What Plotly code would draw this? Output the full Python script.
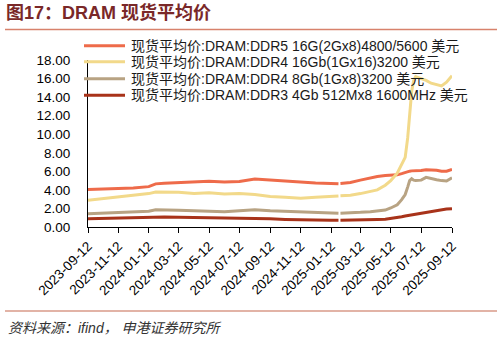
import plotly.graph_objects as go

dates = ["2023-09-12", "2023-10-12", "2023-11-12", "2023-12-12", "2024-01-12", "2024-01-26",
         "2024-02-12", "2024-03-12", "2024-04-12", "2024-05-12", "2024-06-12", "2024-07-12",
         "2024-08-12", "2024-09-12", "2024-10-12", "2024-11-12", "2024-12-12", "2025-01-12",
         "2025-01-27", "2025-01-29", "2025-01-31", "2025-02-20", "2025-03-12", "2025-04-01",
         "2025-04-15", "2025-05-01", "2025-05-12", "2025-05-25", "2025-06-03", "2025-06-10",
         "2025-06-15", "2025-06-19", "2025-06-23", "2025-06-27", "2025-07-01", "2025-07-12",
         "2025-07-22", "2025-08-01", "2025-08-12", "2025-08-22", "2025-09-01", "2025-09-12"]

ddr5_16g = [4.03, 4.08, 4.14, 4.20, 4.35, 4.65, 4.72, 4.78, 4.90, 4.94, 4.85, 4.90,
            5.17, 5.05, 4.95, 4.82, 4.74, 4.70, 4.67, None, 4.70, 4.80, 5.05, 5.32,
            5.45, 5.54, 5.58, 5.62, 5.75, 5.90, 5.98, 6.02, 6.05, 6.05, 6.08, 6.10,
            6.18, 6.15, 6.12, 6.00, 6.02, 6.20]

ddr4_16gb = [2.88, 3.05, 3.23, 3.40, 3.60, 3.77, 3.78, 3.75, 3.60, 3.68, 3.55, 3.60,
             3.50, 3.30, 3.22, 3.10, 3.20, 3.32, 3.34, None, 3.36, 3.42, 3.60, 3.80,
             4.00, 4.50, 5.00, 5.80, 6.80, 7.50, 9.60, 12.30, 14.60, 15.80, 16.20, 16.00,
             15.80, 15.50, 15.30, 15.20, 15.60, 16.30]

ddr4_8gb = [1.44, 1.50, 1.58, 1.62, 1.69, 1.85, 1.85, 1.80, 1.75, 1.72, 1.65, 1.75,
            1.87, 1.75, 1.68, 1.60, 1.52, 1.48, 1.48, None, 1.49, 1.51, 1.58, 1.65,
            1.72, 1.82, 2.05, 2.40, 2.95, 3.50, 4.30, 5.00, 5.20, 5.05, 5.00, 5.05,
            5.35, 5.20, 5.10, 5.00, 4.95, 5.30]

ddr3_4gb = [0.90, 0.95, 1.00, 1.03, 1.07, 1.08, 1.08, 1.05, 1.03, 1.01, 0.98, 0.96,
            0.94, 0.88, 0.82, 0.76, 0.72, 0.72, 0.72, None, 0.72, 0.72, 0.74, 0.78,
            0.80, 0.83, 0.90, 1.00, 1.10, 1.18, 1.23, 1.27, 1.30, 1.33, 1.37, 1.47,
            1.57, 1.67, 1.78, 1.86, 1.93, 1.98]

names = ["现货平均价:DRAM:DDR5 16G(2Gx8)4800/5600 美元",
         "现货平均价:DRAM:DDR4 16Gb(1Gx16)3200 美元",
         "现货平均价:DRAM:DDR4 8Gb(1Gx8)3200 美元",
         "现货平均价:DRAM:DDR3 4Gb 512Mx8 1600MHz 美元"]
series = [ddr5_16g, ddr4_16gb, ddr4_8gb, ddr3_4gb]
colors = ["#EE6B4A", "#F2D98A", "#B8A383", "#A8331A"]

tick_dates = ["2023-09-12", "2023-11-12", "2024-01-12", "2024-03-12", "2024-05-12",
              "2024-07-12", "2024-09-12", "2024-11-12", "2025-01-12", "2025-03-12",
              "2025-05-12", "2025-07-12", "2025-09-12"]
y_ticks = [0, 2, 4, 6, 8, 10, 12, 14, 16, 18]

W, H = 502, 340
L, R, T, B = 88, 50, 60, 113
pw, ph = W - L - R, H - T - B

def px(x):
    return (x - L) / pw

def py(y):
    return (H - B - y) / ph

FONT = "Liberation Sans, Arial, Noto Sans CJK SC, sans-serif"

fig = go.Figure()
for name, vals, col in zip(names, series, colors):
    fig.add_trace(go.Scatter(x=dates, y=vals, mode="lines", name=name,
                             line=dict(color=col, width=3), showlegend=False,
                             connectgaps=False))

shapes = []
annotations = []
legend_y = [45.7, 61.7, 78.7, 95.3]
for name, col, ly in zip(names, colors, legend_y):
    shapes.append(dict(type="line", xref="paper", yref="paper",
                       x0=px(84), x1=px(125), y0=py(ly), y1=py(ly),
                       line=dict(color=col, width=3)))
    annotations.append(dict(xref="paper", yref="paper", x=px(129), y=py(ly),
                            xanchor="left", yanchor="middle", showarrow=False,
                            text=name, font=dict(family=FONT, size=14, color="#1a1a1a")))

# title, rules, source
annotations.append(dict(xref="paper", yref="paper", x=px(4), y=py(13),
                        xanchor="left", yanchor="middle", showarrow=False,
                        text="<b>图17：DRAM 现货平均价</b>",
                        font=dict(family=FONT, size=18, color="#7A2828")))
shapes.append(dict(type="line", xref="paper", yref="paper", x0=px(5), x1=px(497),
                   y0=py(29.5), y1=py(29.5), line=dict(color="#D8826C", width=1.5)))
shapes.append(dict(type="line", xref="paper", yref="paper", x0=px(5), x1=px(497),
                   y0=py(311), y1=py(311), line=dict(color="#D99A88", width=1.5)))
annotations.append(dict(xref="paper", yref="paper", x=px(6), y=py(328),
                        xanchor="left", yanchor="middle", showarrow=False,
                        text="<i>资料来源：ifind， 申港证券研究所</i>",
                        font=dict(family=FONT, size=14, color="#333333")))

fig.update_layout(
    width=W, height=H,
    margin=dict(l=L, r=R, t=T, b=B),
    paper_bgcolor="white", plot_bgcolor="white",
    shapes=shapes, annotations=annotations,
    font=dict(family=FONT, size=14, color="black"),
)
fig.update_xaxes(type="date", range=["2023-09-12", "2025-09-12"],
                 tickvals=tick_dates, ticktext=tick_dates, tickangle=-45,
                 showgrid=False, zeroline=False, showline=True, linecolor="black",
                 linewidth=1, ticks="outside", ticklen=5, tickcolor="black",
                 tickfont=dict(family=FONT, size=13.5, color="black"))
fig.update_yaxes(range=[0, 18], tickvals=y_ticks,
                 ticktext=[f"{v:.2f}" for v in y_ticks],
                 showgrid=False, zeroline=False, showline=True, linecolor="black",
                 linewidth=1, ticks="", ticklabelstandoff=14,
                 tickfont=dict(family=FONT, size=13.5, color="black"))

fig.write_html("out.html")
